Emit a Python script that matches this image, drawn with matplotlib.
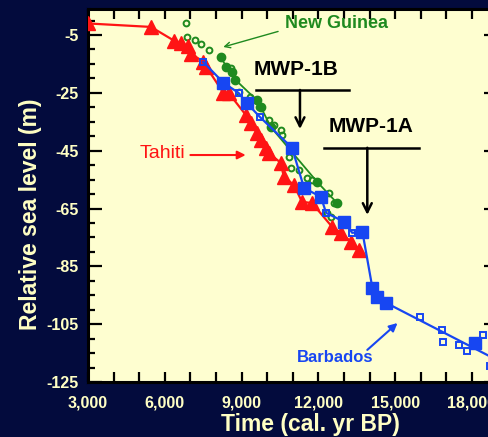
import numpy as np
import matplotlib.pyplot as plt
from matplotlib.ticker import MultipleLocator, FuncFormatter

plt.rcParams['font.family'] = ['Liberation Sans', 'DejaVu Sans']
plt.rcParams['axes.unicode_minus'] = False

# Tahiti coral record (red triangles)
tahiti_age = [3000, 5460, 6370, 6640, 6920, 7040, 7510, 7620, 8290, 8490, 9160, 9350,
              9590, 9750, 9940, 10060, 10530, 10650, 11040, 11360, 11750, 12540,
              12890, 13280, 13600]
tahiti_rsl = [-1.0, -2.2, -7.0, -7.7, -8.8, -11.5, -14.3, -16.0, -25.0, -25.0, -32.6, -35.4,
              -38.8, -41.3, -44.0, -45.8, -49.2, -54.1, -56.8, -62.7, -63.1, -71.4,
              -73.4, -76.6, -79.3]

# Barbados (blue): big filled squares, small open squares, and the fitted line
barb_age = [8290, 9200, 10970, 11440, 12100, 13010, 13720, 14110, 14300, 14660, 18120]
barb_rsl = [-21.5, -28.5, -44.0, -57.9, -61.0, -69.6, -73.1, -92.5, -95.6, -97.7, -111.5]
barb_open_age = [7500, 8880, 9710, 12300, 13320, 15960, 16820, 16860, 17490, 17800, 18430, 18700]
barb_open_rsl = [-14.3, -25.0, -33.3, -66.5, -73.4, -102.5, -107.0, -111.2, -112.2, -114.3, -108.7, -119.5]
barb_line_age = [7500, 8290, 8880, 9200, 9710, 10970, 11440, 12100, 12300, 13010, 13320,
                 13720, 14110, 14300, 14660, 19000]
barb_line_rsl = [-14.3, -21.5, -25.0, -28.5, -33.3, -44.0, -57.9, -61.0, -66.5, -69.6, -73.4,
                 -73.1, -92.5, -95.6, -97.7, -117.5]

# New Guinea (green): filled circles joined by a line, small open circles
ng_age = [8180, 8410, 8610, 8760, 9590, 9750, 10140, 11950, 12730]
ng_rsl = [-12.6, -16.0, -17.7, -20.5, -27.5, -29.9, -36.8, -55.8, -63.1]
ng_open_age = [6840, 6880, 7190, 7430, 7740, 8570, 8880, 9310, 9670, 10060, 10260, 10530,
               10570, 10850, 10930, 11240, 11550, 11750, 12420, 12620, 12340, 12500]
ng_open_rsl = [-0.8, -5.6, -6.7, -8.0, -10.1, -16.3, -24.7, -26.4, -29.9, -34.3, -36.1, -37.8,
               -39.5, -47.2, -51.0, -51.6, -54.4, -55.1, -59.6, -63.1, -66.5, -67.9]

navy = '#030b3d'
paper = '#fefed0'
pale = '#ffffc4'
red = '#ff1414'
blue = '#1746f2'
green = '#1f8a1f'

fig = plt.figure(figsize=(4.89, 4.37), dpi=100)
fig.patch.set_facecolor(navy)
ax = fig.add_axes([88/489, 55/437, (497.6-88)/489, 373/437])
ax.set_facecolor(paper)

# green
ax.plot(ng_age, ng_rsl, '-', color=green, lw=1.3, zorder=2)
ax.plot(ng_open_age, ng_open_rsl, 'o', mfc='none', mec=green, ms=4.2, mew=1.4, zorder=2)
ax.plot(ng_age, ng_rsl, 'o', color=green, ms=6, zorder=2)

# red
ax.plot(tahiti_age, tahiti_rsl, '-', color=red, lw=1.6, zorder=3)
ax.plot(tahiti_age, tahiti_rsl, '^', color=red, ms=9.5, zorder=3)

# blue
ax.plot(barb_line_age, barb_line_rsl, '-', color=blue, lw=1.6, zorder=4)
ax.plot(barb_age, barb_rsl, 's', color=blue, ms=8.5, zorder=4)
ax.plot(barb_open_age, barb_open_rsl, 's', mfc='none', mec=blue, ms=4.5, mew=1.4, zorder=4)

ax.set_xlim(3000, 19000)
ax.set_ylim(-125, 4)

ax.xaxis.set_major_locator(MultipleLocator(3000))
ax.xaxis.set_minor_locator(MultipleLocator(1000))
ax.xaxis.set_major_formatter(FuncFormatter(lambda v, p: f'{int(v):,}'))
ax.set_yticks(np.arange(-125, 0, 20))
ax.yaxis.set_minor_locator(MultipleLocator(5))

ax.tick_params(axis='x', which='both', direction='in', top=True, length=7, width=1.6,
               colors='black', labelcolor=pale, labelsize=11.5, pad=10)
ax.tick_params(axis='y', which='major', direction='in', right=True, length=10, width=1.6,
               colors='black', labelcolor=pale, labelsize=11.5, pad=7)
ax.tick_params(axis='y', which='minor', direction='in', right=False, length=5, width=1.6,
               colors='black')
for lab in ax.get_xticklabels() + ax.get_yticklabels():
    lab.set_fontweight('bold')
for s in ax.spines.values():
    s.set_linewidth(2.2)

# annotations
ax.text(12690, -1.1, 'New Guinea', color=green, fontsize=13, fontweight='bold',
        ha='center', va='center')
ax.annotate('', xy=(8180, -9.4), xytext=(10530, -3.5),
            arrowprops=dict(arrowstyle='->', color=green, lw=1.0))

ax.text(11120, -17.0, 'MWP-1B', color='black', fontsize=15, fontweight='bold',
        ha='center', va='center')
ax.plot([9550, 13200], [-24.0, -24.0], color='black', lw=1.8)
ax.annotate('', xy=(11280, -37.5), xytext=(11280, -24.0),
            arrowprops=dict(arrowstyle='->', color='black', lw=1.8,
                            shrinkA=0, shrinkB=0, mutation_scale=16))

ax.text(14070, -36.8, 'MWP-1A', color='black', fontsize=15, fontweight='bold',
        ha='center', va='center')
ax.plot([12220, 15920], [-44.0, -44.0], color='black', lw=1.8)
ax.annotate('', xy=(13910, -67.2), xytext=(13910, -44.0),
            arrowprops=dict(arrowstyle='->', color='black', lw=1.8,
                            shrinkA=0, shrinkB=0, mutation_scale=16))

ax.text(5900, -46.1, 'Tahiti', color=red, fontsize=14, ha='center', va='center')
ax.annotate('', xy=(9160, -46.5), xytext=(7000, -46.5),
            arrowprops=dict(arrowstyle='-|>', color=red, lw=1.5,
                            shrinkA=0, shrinkB=0, mutation_scale=12))

ax.text(12650, -116.4, 'Barbados', color=blue, fontsize=12, fontweight='bold',
        ha='center', va='center')
ax.annotate('', xy=(15090, -104.6), xytext=(13910, -113.9),
            arrowprops=dict(arrowstyle='-|>', color=blue, lw=1.5,
                            shrinkA=0, shrinkB=0, mutation_scale=12))

fig.text(310/489, 1-425/437, 'Time (cal. yr BP)', color=pale, fontsize=16.5,
         fontweight='bold', ha='center', va='center')
fig.text(31/489, 1-214/437, 'Relative sea level (m)', color=pale, fontsize=16.5,
         fontweight='bold', ha='center', va='center', rotation=90)

fig.savefig('out.png', dpi=100, facecolor=fig.get_facecolor())
